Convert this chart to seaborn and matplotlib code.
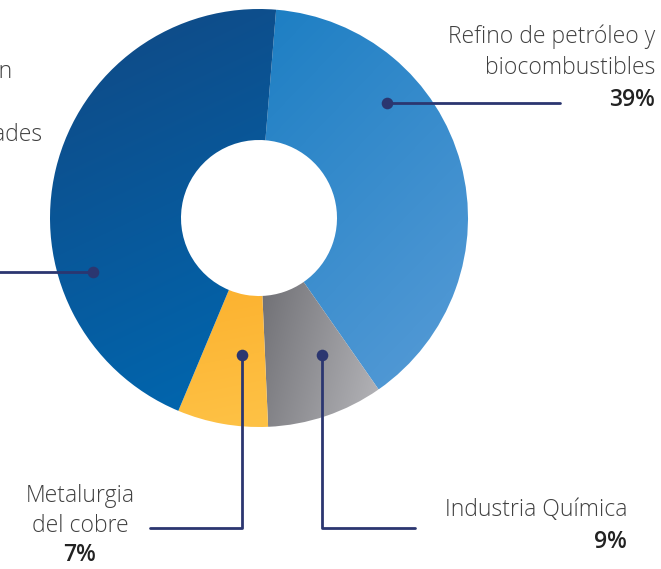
import numpy as np
import matplotlib
matplotlib.use('Agg')
import matplotlib.pyplot as plt
from matplotlib.colors import to_rgb
import seaborn as sns

# data
labels = ['Refino de petróleo y\nbiocombustibles', 'Industria Química', 'Metalurgia\ndel cobre', 'Otros']
shares = [39, 9, 7, 45]
pct_labels = ['39%', '9%', '7%', '45%']

# gradient start/end colours per wedge (from, to, direction in degrees)
grads = [('#1c7ec3', '#589cd7', -60),
         ('#67676c', '#b6b6ba', -25),
         ('#fbaa24', '#fec246', -85),
         ('#114883', '#0068b1', -75)]

sns.set_style('white')
plt.rcParams['font.family'] = ['Open Sans', 'DejaVu Sans']

W, H = 661, 569
fig = plt.figure(figsize=(W / 100, H / 100), dpi=100)
ax = fig.add_axes([0, 0, 1, 1])

cx, cy, r, r_in = 259, H - 218, 209, 78

wedges, _ = ax.pie(shares, startangle=85.3, counterclock=False, center=(cx, cy),
                   radius=r, frame=True,
                   wedgeprops=dict(width=r - r_in, edgecolor='white', linewidth=0.4))

# fill each wedge with a linear gradient
n = 200
xx, yy = np.meshgrid(np.linspace(-1, 1, n), np.linspace(1, -1, n))
for w, (c0, c1, ang) in zip(wedges, grads):
    v = w.get_path().vertices
    x0, y0 = v.min(axis=0)
    x1, y1 = v.max(axis=0)
    a = np.deg2rad(ang)
    t = (xx * np.cos(a) + yy * np.sin(a))
    t = (t - t.min()) / (t.max() - t.min())
    t = t[..., None]
    img = np.array(to_rgb(c0)) * (1 - t) + np.array(to_rgb(c1)) * t
    w.set_facecolor('none')
    im = ax.imshow(img, extent=(x0, x1, y0, y1), zorder=1,
                   interpolation='bilinear', aspect='auto')
    im.set_clip_path(w)

ax.set_xlim(0, W)
ax.set_ylim(0, H)
ax.set_aspect('equal')
ax.axis('off')

navy = '#2b3670'
txt = '#404040'
dark = '#222222'

def Y(y):
    return H - y

# leader lines and dots
ax.plot([387, 560], [Y(103), Y(103)], color=navy, lw=2, zorder=3)
ax.plot([-5, 93], [Y(272), Y(272)], color=navy, lw=2, zorder=3)
ax.plot([242, 242, 150], [Y(355), Y(528), Y(528)], color=navy, lw=2, zorder=3)
ax.plot([322, 322, 415], [Y(355), Y(528), Y(528)], color=navy, lw=2, zorder=3)
for x, y in [(387, 103), (93, 272), (242, 355), (322, 355)]:
    ax.scatter([x], [Y(y)], s=70, color=navy, zorder=4, linewidths=0)

fs = 16.5
kw = dict(va='center', fontsize=fs, color=txt, fontweight='light')
bk = dict(va='center', fontsize=fs, color=dark, fontweight='semibold')
# Refino
ax.text(655, Y(37), 'Refino de petróleo y', ha='right', **kw)
ax.text(655, Y(68), 'biocombustibles', ha='right', **kw)
ax.text(655, Y(100), pct_labels[0], ha='right', **bk)
# Quimica
ax.text(627, Y(510), labels[1], ha='right', **kw)
ax.text(627, Y(542), pct_labels[1], ha='right', **bk)
# Metalurgia
ax.text(80, Y(496), 'Metalurgia', ha='center', **kw)
ax.text(80, Y(526), 'del cobre', ha='center', **kw)
ax.text(80, Y(555), pct_labels[2], ha='center', **bk)
# left label, cut off by the figure edge as in the source
ax.text(13, Y(72), 'Generación', ha='right', **kw)
ax.text(42, Y(135), 'otras actividades', ha='right', **kw)

fig.savefig('out.png', dpi=100)
